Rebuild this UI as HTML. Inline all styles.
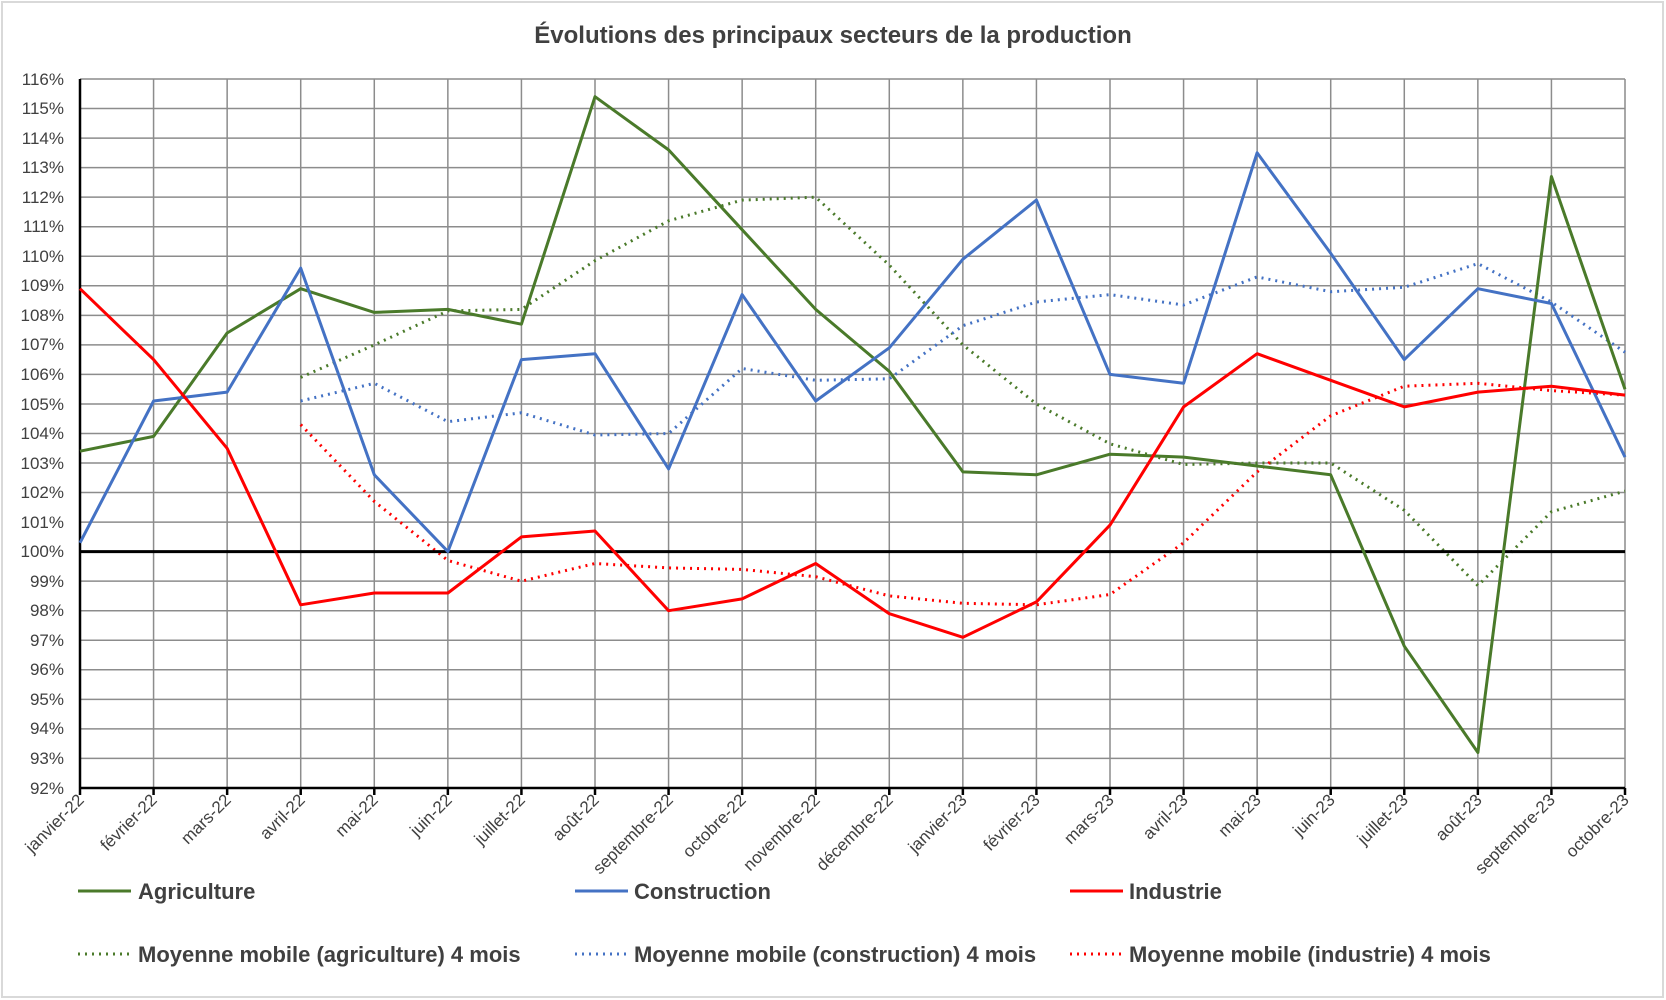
<!DOCTYPE html>
<html><head><meta charset="utf-8"><style>
html,body{margin:0;padding:0;background:#fff}
svg{display:block}
text{font-family:"Liberation Sans","DejaVu Sans",sans-serif}
</style></head><body>
<svg id="s" width="1666" height="1000" xmlns="http://www.w3.org/2000/svg">
<rect x="2" y="2" width="1661" height="995" fill="#fff" stroke="#d9d9d9" stroke-width="2"/>
<text x="833" y="43" text-anchor="middle" font-size="24" font-weight="bold" fill="#404040">Évolutions des principaux secteurs de la production</text>
<g id="grid"></g>
<g font-size="17" fill="#404040" text-anchor="end">
<text x="64" y="85">116%</text><text x="64" y="114">115%</text><text x="64" y="144">114%</text><text x="64" y="173">113%</text><text x="64" y="203">112%</text><text x="64" y="232">111%</text><text x="64" y="262">110%</text><text x="64" y="291">109%</text><text x="64" y="321">108%</text><text x="64" y="350">107%</text><text x="64" y="380">106%</text><text x="64" y="410">105%</text><text x="64" y="439">104%</text><text x="64" y="469">103%</text><text x="64" y="498">102%</text><text x="64" y="528">101%</text><text x="64" y="557">100%</text><text x="64" y="587">99%</text><text x="64" y="616">98%</text><text x="64" y="646">97%</text><text x="64" y="675">96%</text><text x="64" y="705">95%</text><text x="64" y="734">94%</text><text x="64" y="764">93%</text><text x="64" y="794">92%</text>
</g>
<g font-size="17" fill="#404040" text-anchor="end">
<text transform="translate(85,801) rotate(-45)">janvier-22</text>
<text transform="translate(158,801) rotate(-45)">février-22</text>
<text transform="translate(232,801) rotate(-45)">mars-22</text>
<text transform="translate(306,801) rotate(-45)">avril-22</text>
<text transform="translate(379,801) rotate(-45)">mai-22</text>
<text transform="translate(453,801) rotate(-45)">juin-22</text>
<text transform="translate(526,801) rotate(-45)">juillet-22</text>
<text transform="translate(600,801) rotate(-45)">août-22</text>
<text transform="translate(674,801) rotate(-45)">septembre-22</text>
<text transform="translate(747,801) rotate(-45)">octobre-22</text>
<text transform="translate(821,801) rotate(-45)">novembre-22</text>
<text transform="translate(894,801) rotate(-45)">décembre-22</text>
<text transform="translate(968,801) rotate(-45)">janvier-23</text>
<text transform="translate(1041,801) rotate(-45)">février-23</text>
<text transform="translate(1115,801) rotate(-45)">mars-23</text>
<text transform="translate(1189,801) rotate(-45)">avril-23</text>
<text transform="translate(1262,801) rotate(-45)">mai-23</text>
<text transform="translate(1336,801) rotate(-45)">juin-23</text>
<text transform="translate(1409,801) rotate(-45)">juillet-23</text>
<text transform="translate(1483,801) rotate(-45)">août-23</text>
<text transform="translate(1556,801) rotate(-45)">septembre-23</text>
<text transform="translate(1630,801) rotate(-45)">octobre-23</text>
</g>
<g id="series"></g>
<g font-size="22" font-weight="bold" fill="#404040">
<line x1="78" y1="891" x2="131" y2="891" stroke="#4a7a2a" stroke-width="3"/>
<text x="138" y="899">Agriculture</text>
<line x1="575" y1="891" x2="628" y2="891" stroke="#4472c4" stroke-width="3"/>
<text x="634" y="899">Construction</text>
<line x1="1070" y1="891" x2="1123" y2="891" stroke="#ff0000" stroke-width="3"/>
<text x="1129" y="899">Industrie</text>
<line x1="78" y1="954" x2="131" y2="954" stroke="#4a7a2a" stroke-width="3" stroke-dasharray="2 5"/>
<text x="138" y="962">Moyenne mobile (agriculture) 4 mois</text>
<line x1="575" y1="954" x2="628" y2="954" stroke="#4472c4" stroke-width="3" stroke-dasharray="2 5"/>
<text x="634" y="962">Moyenne mobile (construction) 4 mois</text>
<line x1="1070" y1="954" x2="1123" y2="954" stroke="#ff0000" stroke-width="3" stroke-dasharray="2 5"/>
<text x="1129" y="962">Moyenne mobile (industrie) 4 mois</text>
</g>
</svg>
<script>
(function(){
var X=function(i){return 80+i*(1545/21);};
var Y=function(v){return 79+(116-v)*29.54;};
var ns="http://www.w3.org/2000/svg";
var g=document.getElementById("grid"),s=document.getElementById("series");
function ln(p,x1,y1,x2,y2,c,w,d){var l=document.createElementNS(ns,"line");l.setAttribute("x1",x1);l.setAttribute("y1",y1);l.setAttribute("x2",x2);l.setAttribute("y2",y2);l.setAttribute("stroke",c);l.setAttribute("stroke-width",w);if(d)l.setAttribute("stroke-dasharray",d);p.appendChild(l);}
for(var v=92;v<=116;v++){ln(g,80,Y(v),1625,Y(v),"#8c8c8c",1.5);}
for(var i=1;i<=21;i++){ln(g,X(i),79,X(i),788,"#8c8c8c",1.5);}
ln(g,80,79,80,788,"#000",2.5);
ln(g,80,788,1625,788,"#000",2.5);
for(var i=0;i<=21;i++){ln(g,X(i),788,X(i),795,"#000",2.5);}
function pl(data,start,c,d){var p=document.createElementNS(ns,"polyline");var pts=data.map(function(v,k){return X(k+start).toFixed(1)+","+Y(v).toFixed(1);}).join(" ");p.setAttribute("points",pts);p.setAttribute("fill","none");p.setAttribute("stroke",c);p.setAttribute("stroke-width",3);p.setAttribute("stroke-linejoin","round");if(d)p.setAttribute("stroke-dasharray",d);s.appendChild(p);}
pl([105.9,107.0,108.15,108.2,109.85,111.2,111.9,112.0,109.7,107.0,105.0,103.65,102.95,103.0,103.0,101.4,98.85,101.35,102.05],3,"#4a7a2a","2 5");
pl([105.1,105.7,104.4,104.7,103.95,104.0,106.2,105.8,105.85,107.65,108.45,108.7,108.35,109.3,108.8,108.95,109.75,108.45,106.75],3,"#4472c4","2 5");
pl([104.3,101.7,99.7,99.0,99.6,99.45,99.4,99.15,98.5,98.25,98.2,98.55,100.3,102.7,104.6,105.6,105.7,105.45,105.3],3,"#ff0000","2 5");
ln(s,80,Y(100),1625,Y(100),"#000",3);
pl([103.4,103.9,107.4,108.9,108.1,108.2,107.7,115.4,113.6,110.9,108.2,106.1,102.7,102.6,103.3,103.2,102.9,102.6,96.8,93.2,112.7,105.5],0,"#4a7a2a");
pl([100.3,105.1,105.4,109.6,102.6,100.0,106.5,106.7,102.8,108.7,105.1,106.9,109.9,111.9,106.0,105.7,113.5,110.1,106.5,108.9,108.4,103.2],0,"#4472c4");
pl([108.9,106.5,103.5,98.2,98.6,98.6,100.5,100.7,98.0,98.4,99.6,97.9,97.1,98.3,100.9,104.9,106.7,105.8,104.9,105.4,105.6,105.3],0,"#ff0000");
})();
</script>
</body></html>
